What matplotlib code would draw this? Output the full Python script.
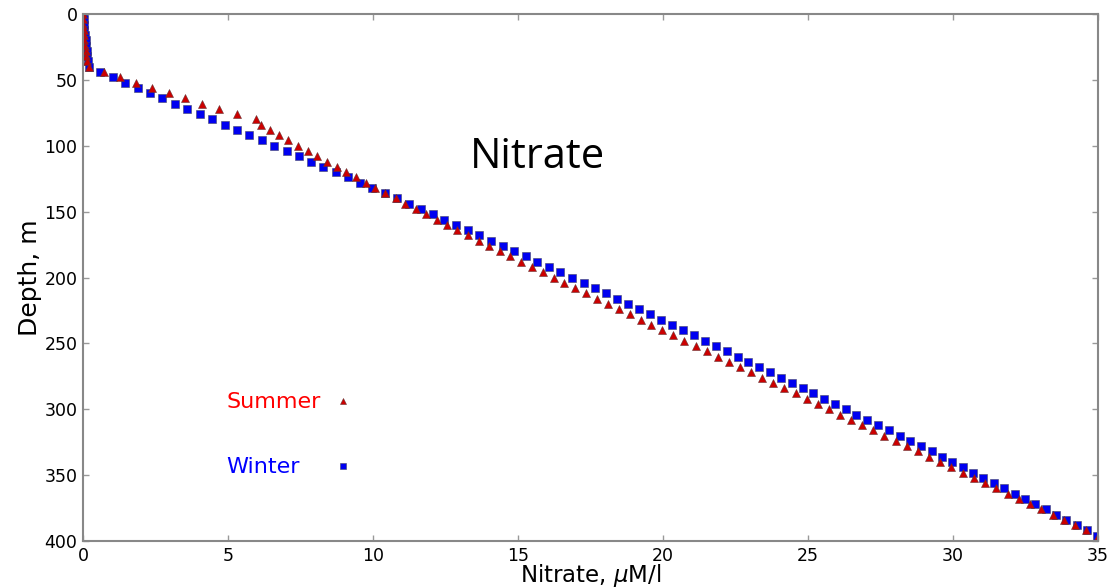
import numpy as np
import matplotlib
matplotlib.use('Agg')
import matplotlib.pyplot as plt

# depth levels, m
depth = [0, 4, 8, 12, 16, 20, 24, 28, 32, 36, 40,
         44, 48, 52, 56, 60, 64, 68, 72, 76, 80, 84, 88, 92, 96, 100,
         104, 108, 112, 116, 120, 124, 128, 132, 136, 140, 144, 148, 152, 156, 160,
         164, 168, 172, 176, 180, 184, 188, 192, 196, 200, 204, 208, 212, 216, 220,
         224, 228, 232, 236, 240, 244, 248, 252, 256, 260, 264, 268, 272, 276, 280,
         284, 288, 292, 296, 300, 304, 308, 312, 316, 320, 324, 328, 332, 336, 340,
         344, 348, 352, 356, 360, 364, 368, 372, 376, 380, 384, 388, 392, 396, 400]

winter = [0.00, 0.02, 0.03, 0.05, 0.07, 0.09, 0.11, 0.13, 0.15, 0.17, 0.22,
          0.60, 1.03, 1.46, 1.89, 2.31, 2.74, 3.17, 3.60, 4.03, 4.46, 4.89, 5.31, 5.74, 6.17, 6.60,
          7.02, 7.45, 7.87, 8.29, 8.71, 9.14, 9.56, 9.98, 10.40, 10.83, 11.25,
          11.65, 12.06, 12.46, 12.87, 13.27, 13.67, 14.07, 14.47, 14.86, 15.26, 15.66, 16.06,
          16.46, 16.86, 17.27,
          17.65, 18.03, 18.41, 18.79, 19.17, 19.55, 19.94, 20.32, 20.70,
          21.07, 21.45, 21.82, 22.19, 22.57, 22.94, 23.31, 23.69, 24.06, 24.43, 24.81, 25.18,
          25.55, 25.93, 26.30,
          26.67, 27.04, 27.41, 27.79, 28.16, 28.53, 28.90,
          29.26, 29.61, 29.97, 30.33, 30.69, 31.04, 31.40, 31.76, 32.12, 32.47, 32.83, 33.19,
          33.54, 33.90, 34.26, 34.61, 34.97, 35.33]

summer = [0.00, 0.00, 0.01, 0.02, 0.03, 0.05, 0.07, 0.09, 0.11, 0.14, 0.20,
          0.72, 1.28, 1.82, 2.38, 2.95, 3.52, 4.10, 4.70, 5.30, 5.97,
          6.14, 6.45, 6.76, 7.07, 7.40, 7.76, 8.07, 8.41, 8.76, 9.07, 9.41, 9.76, 10.07, 10.41, 10.80,
          11.10, 11.48, 11.83, 12.20, 12.55, 12.90, 13.28, 13.65, 14.00,
          14.37, 14.74, 15.11, 15.48, 15.86, 16.23, 16.60, 16.97, 17.34,
          17.72, 18.10, 18.48, 18.86, 19.24, 19.60, 19.97,
          20.35, 20.73, 21.12, 21.50, 21.88, 22.26, 22.65, 23.03, 23.41,
          23.80, 24.18, 24.57, 24.95, 25.34, 25.72,
          26.10, 26.49, 26.87, 27.25, 27.63, 28.02, 28.40, 28.78, 29.17,
          29.56, 29.94, 30.33, 30.72, 31.11, 31.49, 31.88, 32.27, 32.66, 33.05, 33.43, 33.82,
          34.21, 34.60, 34.99, 35.38]

xticks = [0, 5, 10, 15, 20, 25, 30, 35]
yticks = [0, 50, 100, 150, 200, 250, 300, 350, 400]

fig = plt.figure(figsize=(11.16, 5.88), dpi=100)
ax = fig.add_axes([0.0744, 0.0799, 0.9095, 0.8963])

w_line, = ax.plot(winter, depth, 's', color='#0000f0', ms=6, mec='#444466', mew=0.4,
                  label='Winter')
s_line, = ax.plot(summer, depth, '^', color='#cc0000', ms=6, mec='#663333', mew=0.4,
                  label='Summer')

ax.set_xlim(0, 35)
ax.set_ylim(400, 0)
ax.set_xticks(xticks)
ax.set_yticks(yticks)
ax.tick_params(direction='in', length=4, width=1, color='#999999', top=True, right=True,
               labelsize=12.5, pad=4)
for sp in ax.spines.values():
    sp.set_color('#888888')
    sp.set_linewidth(1.5)

ax.set_xlabel(r'Nitrate, $\mu$M/l', fontsize=16.5, labelpad=-2)
ax.set_ylabel('Depth, m', fontsize=18, labelpad=2)

ax.text(0.448, 0.728, 'Nitrate', transform=ax.transAxes, fontsize=30,
        family='Open Sans', ha='center', va='center')

# legend: coloured labels on the left, marker further right
ax.text(0.141, 0.264, 'Summer', transform=ax.transAxes, fontsize=16,
        color='#ff0000', ha='left', va='center')
ax.text(0.141, 0.140, 'Winter', transform=ax.transAxes, fontsize=16,
        color='#0000ff', ha='left', va='center')
leg1 = ax.legend([s_line], [''], loc='center', bbox_to_anchor=(0.2562, 0.264),
                 frameon=False, numpoints=1, markerscale=0.7, handlelength=1,
                 handletextpad=0, borderpad=0, borderaxespad=0)
ax.add_artist(leg1)
ax.legend([w_line], [''], loc='center', bbox_to_anchor=(0.2562, 0.140),
          frameon=False, numpoints=1, markerscale=0.7, handlelength=1,
          handletextpad=0, borderpad=0, borderaxespad=0)

fig.savefig('out.png', dpi=100)
